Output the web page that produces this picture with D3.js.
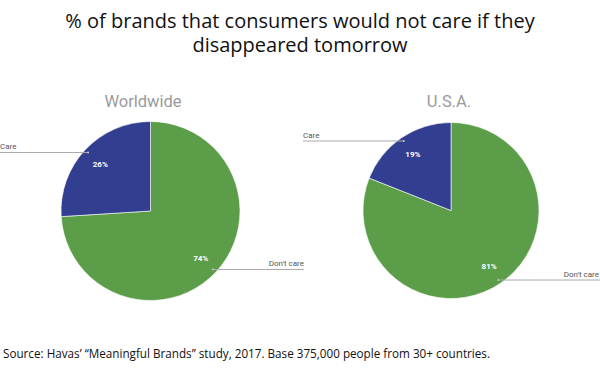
<!DOCTYPE html>
<html><head><meta charset="utf-8">
<script src="https://cdn.jsdelivr.net/npm/d3@7"></script>
<style>body{margin:0;background:#fff;}svg{display:block;}</style>
</head><body>
<svg id="c" width="600" height="375"></svg>
<script>
const categories = ["Don't care", "Care"];
const regions = ["Worldwide", "U.S.A."];
const worldwideValues = [74, 26];
const usaValues = [81, 19];
const colors = ["#5b9d48", "#323e8f"];
const titleLines = ["% of brands that consumers would not care if they", "disappeared tomorrow"];
const sourceText = "Source: Havas’ “Meaningful Brands” study, 2017. Base 375,000 people from 30+ countries.";

const svg = d3.select("#c");
svg.append("rect").attr("width",600).attr("height",375).attr("fill","#fff");

const title = svg.append("text")
  .attr("text-anchor","middle")
  .attr("font-family","'Open Sans', sans-serif")
  .attr("font-size",20).attr("fill","#111");
title.selectAll("tspan").data(titleLines).join("tspan")
  .attr("x",300).attr("y",(d,i)=>27.5+i*24.3)
  .text(d=>d);

svg.append("text").attr("x",3).attr("y",358.3)
  .attr("font-family","'Open Sans', sans-serif")
  .attr("font-size",11.7).attr("fill","#111")
  .attr("textLength",487).attr("lengthAdjust","spacingAndGlyphs")
  .text(sourceText);

const charts = [
  {name: regions[0], values: worldwideValues, cx:150.5, cy:211, r:89.5, titleX:143,
   labels:[{side:"right", end:304, lineEnd:304},{side:"left", end:0, lineEnd:0}]},
  {name: regions[1], values: usaValues, cx:451, cy:210.5, r:88, titleX:449,
   labels:[{side:"right", end:599, lineEnd:600},{side:"left", end:303, lineEnd:303}]}
];

const pie = d3.pie().sort(null).value(d=>d.v);

charts.forEach(ch=>{
  const g = svg.append("g").attr("transform",`translate(${ch.cx},${ch.cy})`);
  svg.append("text").attr("x",ch.titleX).attr("y",107)
    .attr("text-anchor","middle")
    .attr("font-family","Roboto, sans-serif")
    .attr("font-size",16.5).attr("fill","#9a9a9a")
    .text(ch.name);
  const data = pie(categories.map((c,i)=>({c, v: ch.values[i], i})));
  const arc = d3.arc().innerRadius(0).outerRadius(ch.r);
  g.selectAll("path").data(data).join("path")
    .attr("d",arc).attr("fill",d=>colors[d.data.i])
    .attr("stroke","#fff").attr("stroke-width",0.6);
  const inner = d3.arc().innerRadius(ch.r*0.77).outerRadius(ch.r*0.77);
  g.selectAll("text.pct").data(data).join("text")
    .attr("class","pct")
    .attr("transform",d=>`translate(${inner.centroid(d)})`)
    .attr("text-anchor","middle").attr("dy","0.35em")
    .attr("font-family","Roboto, sans-serif").attr("font-weight","bold")
    .attr("font-size",8).attr("fill","#fff")
    .text(d=>d.data.v+"%");
  const dotArc = d3.arc().innerRadius(ch.r*0.955).outerRadius(ch.r*0.955);
  data.forEach((d,k)=>{
    const [px,py] = dotArc.centroid(d);
    const lab = ch.labels[k];
    const ex = lab.end - ch.cx;
    g.append("line").attr("x1",px).attr("y1",py).attr("x2",lab.lineEnd - ch.cx).attr("y2",py)
      .attr("stroke","#aaa").attr("stroke-width",1);
    g.append("circle").attr("cx",px).attr("cy",py).attr("r",0.9).attr("fill","#ccc");
    g.append("text").attr("x",ex).attr("y",py-3.5)
      .attr("text-anchor",lab.side==="right"?"end":"start")
      .attr("font-family","Roboto, sans-serif")
      .attr("font-size",8).attr("fill","#555")
      .text(d.data.c);
  });
});
</script>
</body></html>
